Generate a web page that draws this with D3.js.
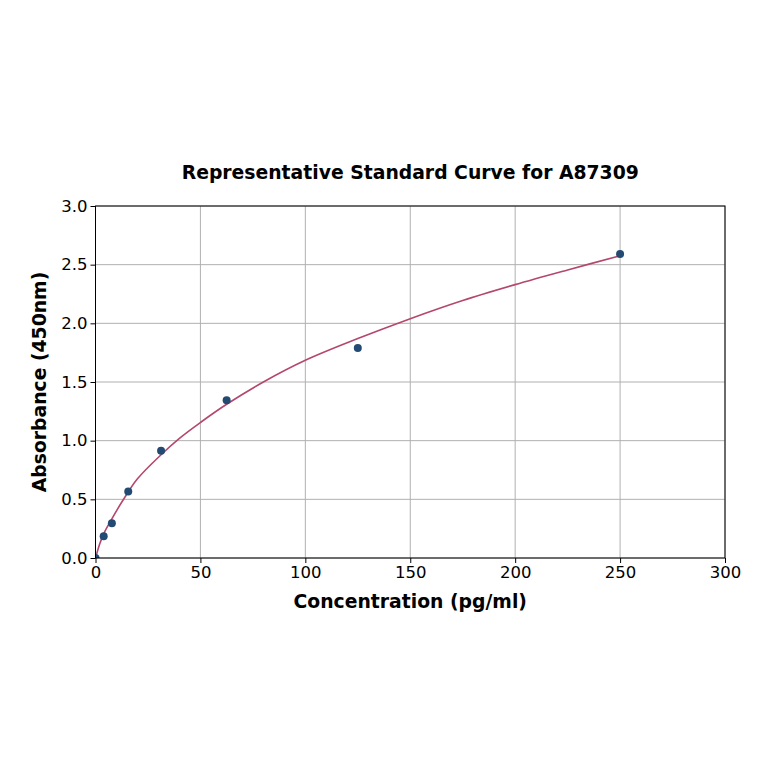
<!DOCTYPE html>
<html>
<head>
<meta charset="utf-8">
<script src="https://cdn.jsdelivr.net/npm/d3@7/dist/d3.min.js"></script>
<style>
  html, body { margin: 0; padding: 0; background: #fff; }
  text { font-family: "DejaVu Sans", sans-serif; }
</style>
</head>
<body>
<div id="chart"></div>
<script>
// standard points
var concentrations = [0, 3.9, 7.8, 15.6, 31.25, 62.5, 125, 250];
var absorbances = [0.0, 0.186, 0.297, 0.566, 0.914, 1.345, 1.79, 2.59];

// fitted curve, sampled by eye along the drawn line
var curveX = [0, 2, 4, 8, 13, 20, 31.25, 40, 50, 62.5, 80, 100, 125, 150, 175, 200, 225, 250];
var curveY = [0, 0.12, 0.21, 0.34, 0.49, 0.675, 0.88, 1.02, 1.155, 1.31, 1.50, 1.685, 1.87, 2.04, 2.195, 2.33, 2.455, 2.576];

var xTicks = [0, 50, 100, 150, 200, 250, 300];
var yTicks = [0, 0.5, 1.0, 1.5, 2.0, 2.5, 3.0];

var W = 764, H = 764;
var plotL = 95.5, plotR = 725, plotT = 206, plotB = 558;

var svg = d3.select('#chart').append('svg')
    .attr('width', W)
    .attr('height', H);

var x = d3.scaleLinear().domain([0, 300]).range([plotL, plotR]);
var y = d3.scaleLinear().domain([0, 3]).range([plotB, plotT]);

svg.append('defs').append('clipPath')
    .attr('id', 'plot-clip')
    .append('rect')
    .attr('x', plotL).attr('y', plotT)
    .attr('width', plotR - plotL).attr('height', plotB - plotT);

// grid
var grid = svg.append('g').attr('class', 'grid');
grid.selectAll('.vg')
    .data(xTicks)
    .enter().append('line')
    .attr('x1', function(d) { return x(d); })
    .attr('x2', function(d) { return x(d); })
    .attr('y1', plotT).attr('y2', plotB)
    .attr('stroke', '#b0b0b0')
    .attr('stroke-width', 1);
grid.selectAll('.hg')
    .data(yTicks)
    .enter().append('line')
    .attr('y1', function(d) { return y(d); })
    .attr('y2', function(d) { return y(d); })
    .attr('x1', plotL).attr('x2', plotR)
    .attr('stroke', '#b0b0b0')
    .attr('stroke-width', 1);

var plot = svg.append('g').attr('clip-path', 'url(#plot-clip)');

// curve
var line = d3.line()
    .x(function(d) { return x(d[0]); })
    .y(function(d) { return y(d[1]); })
    .curve(d3.curveCatmullRom.alpha(0.5));

plot.append('path')
    .datum(d3.zip(curveX, curveY))
    .attr('fill', 'none')
    .attr('stroke', '#b5476f')
    .attr('stroke-width', 1.6)
    .attr('d', line);

// points
plot.selectAll('.pt')
    .data(d3.zip(concentrations, absorbances))
    .enter().append('circle')
    .attr('cx', function(d) { return x(d[0]); })
    .attr('cy', function(d) { return y(d[1]); })
    .attr('r', 4)
    .attr('fill', '#234a72');

// frame
svg.append('rect')
    .attr('x', plotL).attr('y', plotT)
    .attr('width', plotR - plotL).attr('height', plotB - plotT)
    .attr('fill', 'none')
    .attr('stroke', '#000')
    .attr('stroke-width', 1);

// axes
var xAxis = svg.append('g')
    .attr('transform', 'translate(0,' + plotB + ')')
    .call(d3.axisBottom(x).tickValues(xTicks).tickSize(5).tickPadding(3).tickFormat(d3.format('d')));
var yAxis = svg.append('g')
    .attr('transform', 'translate(' + plotL + ',0)')
    .call(d3.axisLeft(y).tickValues(yTicks).tickSize(5).tickPadding(3).tickFormat(d3.format('.1f')));

[xAxis, yAxis].forEach(function(a) {
    a.select('.domain').remove();
    a.selectAll('text')
        .attr('font-size', '16.5px')
        .attr('font-family', '"DejaVu Sans", sans-serif')
        .attr('fill', '#000');
    a.selectAll('line').attr('stroke', '#000');
});

// titles
svg.append('text')
    .attr('x', (plotL + plotR) / 2)
    .attr('y', 179)
    .attr('text-anchor', 'middle')
    .attr('font-size', '18.8px')
    .attr('font-weight', 'bold')
    .text('Representative Standard Curve for A87309');

svg.append('text')
    .attr('x', (plotL + plotR) / 2)
    .attr('y', 608)
    .attr('text-anchor', 'middle')
    .attr('font-size', '18.8px')
    .attr('font-weight', 'bold')
    .text('Concentration (pg/ml)');

svg.append('text')
    .attr('transform', 'translate(46,' + ((plotT + plotB) / 2) + ') rotate(-90)')
    .attr('text-anchor', 'middle')
    .attr('font-size', '18.8px')
    .attr('font-weight', 'bold')
    .text('Absorbance (450nm)');
</script>
</body>
</html>
